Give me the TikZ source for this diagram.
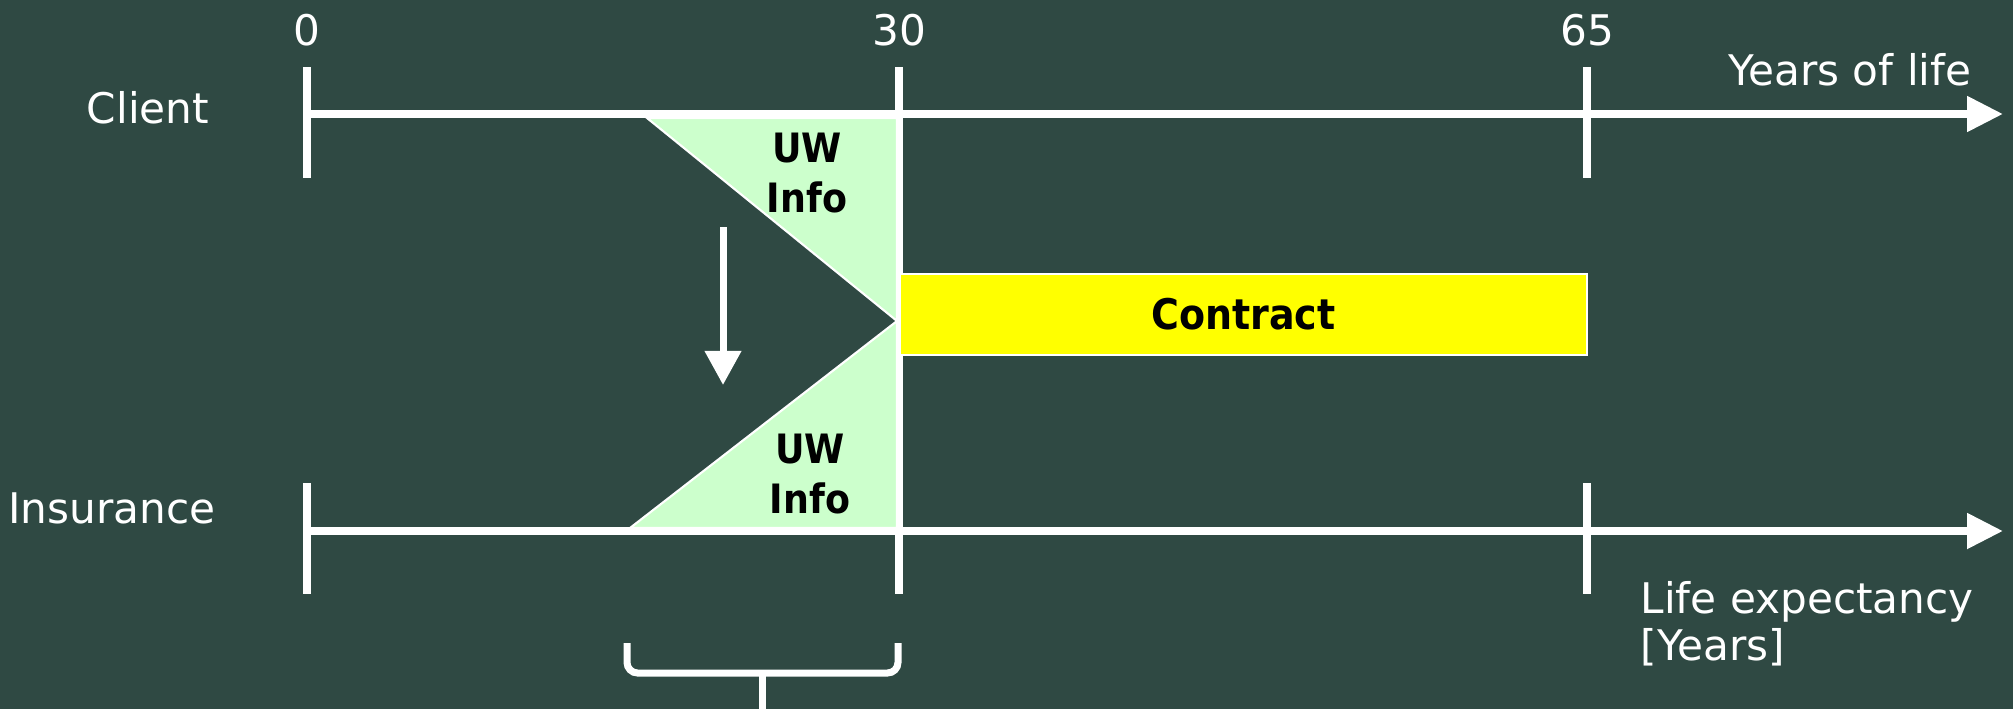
\documentclass[tikz,border=0pt]{standalone}
\usepackage{fontspec}
\setmainfont{DejaVu Sans}
\newfontfamily\condfont{DejaVu Sans Condensed}
\usetikzlibrary{arrows.meta,positioning,calc}
\definecolor{bgdark}{HTML}{2F4943}
\definecolor{uwgreen}{HTML}{CCFFCC}
\definecolor{contractyellow}{RGB}{255,255,0}

\begin{document}
\begin{tikzpicture}[x=0.01cm,y=-0.01cm,
    axis/.style={white,line width=0.08cm,-{Triangle[length=0.36cm,width=0.34cm]}},
    tick/.style={white,line width=0.08cm},
    lbl/.style={text=white,inner sep=0pt,font=\fontsize{12}{13.4}\selectfont},
    uw/.style={fill=uwgreen,draw=white,line width=0.6pt},
    uwtext/.style={text=black,inner sep=0pt,align=center,font=\condfont\fontsize{11.5}{14.2}\selectfont\bfseries}]
  \fill[bgdark] (0,0) rectangle (2013,709);
  \useasboundingbox (0,0) rectangle (2013,709);
  % time axes
  \coordinate (c0) at (307,114);
  \coordinate (cend) at (2003,114);
  \coordinate (i0) at (307,531);
  \coordinate (iend) at (2003,531);
  \draw[axis] (c0) -- (cend);
  \draw[axis] (i0) -- (iend);
  \foreach \x in {307,1587} {
    \draw[tick] (\x,67) -- (\x,178);
    \draw[tick] (\x,483) -- (\x,594);
  }
  \draw[tick] (899,67) -- (899,594);
  \foreach \x/\n in {307/0,899/30,1587/65}
    \node[lbl,anchor=base] (t\n) at (\x,45) {\n};
  % underwriting info
  \coordinate (apex) at (897,321);
  \filldraw[uw] (647,118) -- (897,118) -- (apex) -- cycle;
  \filldraw[uw] (630,528) -- (897,528) -- (apex) -- cycle;
  \node[uwtext,anchor=north] (uwclient) at (807,132.5) {UW\\Info};
  \node[uwtext,anchor=north] (uwins) at (810,433.5) {UW\\Info};
  \node[draw=white,line width=0.6pt,fill=contractyellow,minimum width=6.87cm,minimum height=0.81cm,inner sep=0pt,
    font=\condfont\fontsize{12}{14}\selectfont\bfseries] (contract) at (1243.5,314.5) {Contract};
  % transfer arrow
  \coordinate (dtop) at (723,227);
  \coordinate (dbot) at (723,385);
  \draw[white,line width=0.07cm,-{Triangle[length=0.34cm,width=0.35cm]}] (dtop) -- (dbot);
  % bracket
  \draw[tick,line width=0.07cm,rounded corners=3pt] (627,643) -- (627,673) -- (898,673) -- (898,643);
  \coordinate (bmid) at (762,673);
  \coordinate (bend) at (762,709);
  \draw[tick,line width=0.07cm] (bmid) -- (bend);
  % labels
  \node[lbl,anchor=base] (client) at (148,123) {Client};
  \node[lbl,anchor=base] (insurance) at (112,523) {Insurance};
  \node[lbl,anchor=base east] (years) at (1972,85) {Years of life};
  \node[lbl,anchor=north west,align=left] (lifeexp) at (1640,581) {Life expectancy\\{[Years]}};
\end{tikzpicture}
\end{document}
